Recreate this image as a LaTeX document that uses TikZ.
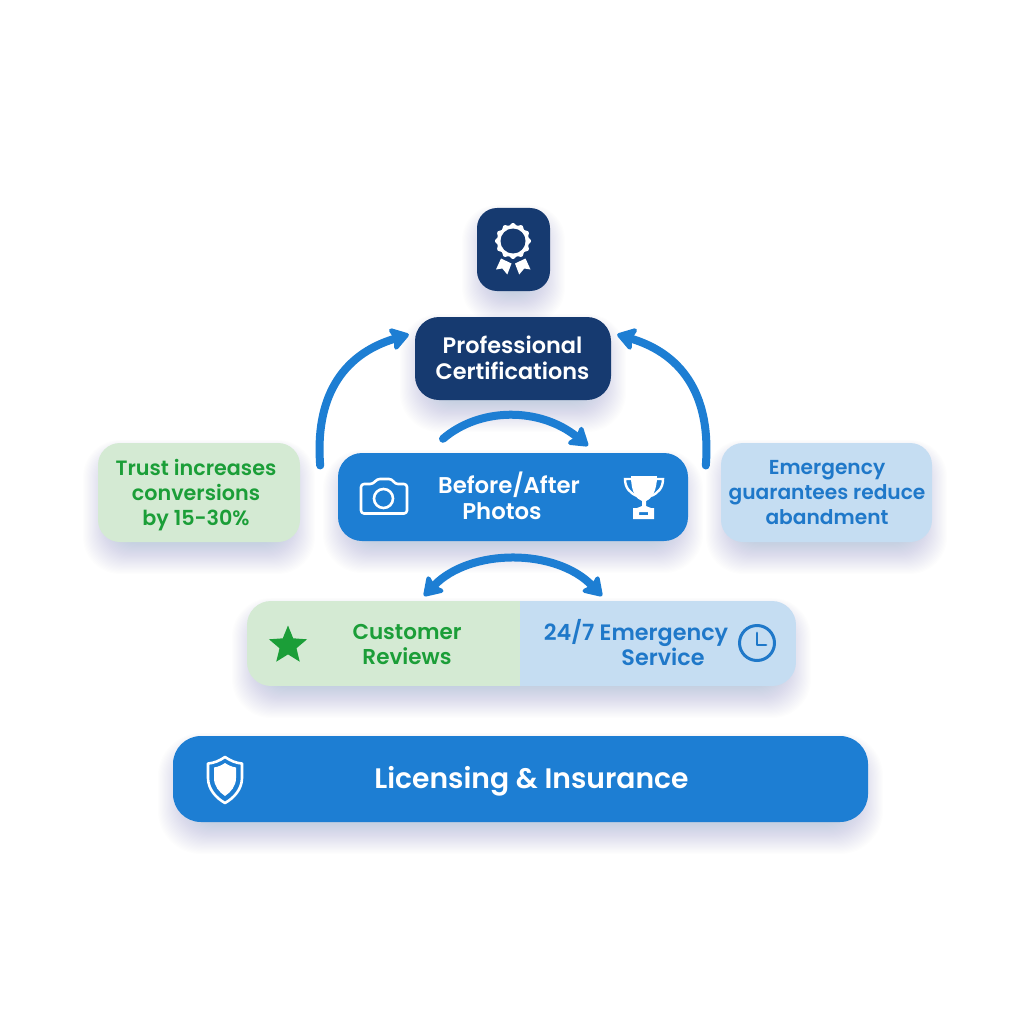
\documentclass[tikz,border=0pt]{standalone}
\usepackage{fontspec}
\setmainfont{Poppins}[UprightFont=* SemiBold,BoldFont=* SemiBold]
\usetikzlibrary{arrows.meta,shapes.geometric,calc}
\definecolor{navy}{HTML}{163A70}
\definecolor{mainblue}{HTML}{1D7ED3}
\definecolor{palegreen}{HTML}{D4EAD3}
\definecolor{paleblue}{HTML}{C5DDF2}
\definecolor{leaf}{HTML}{1B9E38}
\definecolor{skytext}{HTML}{1F78C9}
\definecolor{shadowc}{HTML}{3F5C7E}
\newcommand{\softshade}[5]{%
  \foreach \k in {0,...,29}{%
    \fill[shadowc,fill opacity=0.0095,rounded corners=#5pt+15pt-\k*0.5pt]
      ({#1-15+\k*1.1},{#2-3+\k*0.7}) rectangle ({#3+15-\k*1.1},{#4+32-\k*1.1});
  }%
}
\tikzset{
  box/.style={rectangle,inner sep=0pt,align=center,font=\fontsize{21.5}{25.5}\selectfont},
  flow/.style={draw=mainblue,line width=8pt,line cap=round,fill=none},
  headtip/.tip={Stealth[length=21pt,width=27pt,inset=4pt,round]},
  glyph/.style={draw=white,line width=2.6pt,line join=round,fill=none}
}
\begin{document}
\begin{tikzpicture}[x=1pt,y=-1pt]
\useasboundingbox (0,0) rectangle (1024,1024);
\fill[white] (0,0) rectangle (1024,1024);
% shadows
\softshade{477}{208}{550}{291}{20}
\softshade{415}{317}{611}{400}{24}
\softshade{338}{453}{688}{541}{24}
\softshade{98}{443}{300}{542}{22}
\softshade{721}{443}{932}{542}{22}
\softshade{247}{601}{796}{686}{24}
\softshade{173}{736}{868}{822}{28}
% nodes
\node[box,fill=navy,rounded corners=20pt,minimum width=73pt,minimum height=83pt] (badge) at (513.5,249.5) {};
\node[box,fill=navy,rounded corners=24pt,minimum width=196pt,minimum height=83pt] (prof) at (513,358.5) {};
\node[box,text=white,font=\fontsize{22.4}{25.8}\selectfont] (proft) at (512.5,358) {Professional\\Certifications};
\node[box,fill=mainblue,rounded corners=24pt,minimum width=350pt,minimum height=88pt] (photos) at (513,497) {};
\node[box,text=white,font=\fontsize{22.8}{25.8}\selectfont] (photost) at (502,496) {\hspace*{14pt}Before/After\\Photos};
\node[box,fill=palegreen,rounded corners=22pt,minimum width=202pt,minimum height=99pt] (trust) at (199,492.5) {};
\node[box,text=leaf,font=\fontsize{20.7}{25}\selectfont] (trustt) at (196,495) {Trust increases\\conversions\\by 15-30\%};
\node[box,fill=paleblue,rounded corners=22pt,minimum width=211pt,minimum height=99pt] (guar) at (826.5,492.5) {};
\node[box,text=skytext,font=\fontsize{20.2}{25}\selectfont] (guart) at (827,493) {Emergency\\guarantees reduce\\abandment};
% split bar
\begin{scope}
\clip[rounded corners=24pt] (247,601) rectangle (796,686);
\fill[palegreen] (247,601) rectangle (520,686);
\fill[paleblue] (520,601) rectangle (796,686);
\end{scope}
\node[box,text=leaf] (reviews) at (407,644.5) {Customer\\Reviews};
\node[box,text=skytext,font=\fontsize{22.3}{25.5}\selectfont] (service) at (636,642.5) {24/7 Emergency\\\hspace*{54pt}Service};
\node[box,fill=mainblue,rounded corners=28pt,minimum width=695pt,minimum height=86pt] (lic) at (520.5,779) {};
\node[box,text=white,font=\fontsize{28.2}{32}\selectfont] (lict) at (531.5,781) {Licensing \& Insurance};
% connectors
\coordinate (midL) at ($(photos.north)+(-70,-14)$);
\coordinate (midR) at ($(photos.north)+(75,-7)$);
\coordinate (revUp) at (424,596);
\coordinate (srvUp) at (602,596);
\draw[flow,-{headtip}] ($(trust.east)+(20,-27)$) .. controls (315,400) and (340,355) .. ($(prof.west)+(-6,-24)$);
\draw[flow,-{headtip}] ($(guar.west)+(-15,-27)$) .. controls (711,400) and (686,355) .. ($(prof.east)+(6,-24)$);
\draw[flow,-{headtip}] (midL) .. controls (480,407) and (540,407) .. (midR);
\draw[flow,{headtip}-{headtip}] (revUp) .. controls (470,548) and (556,548) .. (srvUp);
% medal
\fill[white] plot[domain=0:360,samples=97] ({513+(16.9+1.1*cos(12*\x))*cos(\x)},{241+(16.9+1.1*cos(12*\x))*sin(\x)}) -- cycle;
\fill[navy] (513,241) circle (12.5);
\fill[white] (501,258.5) -- (511.5,263.5) -- (507.3,274.5) -- (502.3,268.5) -- (496,269.5) -- cycle;
\fill[white] (525.5,258.5) -- (515,263.5) -- (519.2,274.5) -- (524.2,268.5) -- (530.5,269.5) -- cycle;
% camera
\draw[glyph,rounded corners=3pt] (361,484) -- (373,484) -- (377,479) -- (392,479) -- (395,484) -- (407,484) -- (407,513.5) -- (361,513.5) -- cycle;
\draw[glyph] (383.5,498.5) circle (9.5);
% trophy
\fill[white] (631,476) -- (657,476) .. controls (657,492) and (651,499) .. (646,501) -- (646,506) -- (651,508) -- (637,508) -- (642,506) -- (642,501) .. controls (636,499) and (631,492) .. (631,476) -- cycle;
\draw[draw=white,line width=2.4pt] (631,479) -- (625,479) .. controls (625,488) and (630,493) .. (637,496);
\draw[draw=white,line width=2.4pt] (657,479) -- (663,479) .. controls (663,488) and (658,493) .. (651,496);
\fill[white,even odd rule] (633,508) rectangle (654,519) (639,512) rectangle (648,515);
% shield
\draw[white,line width=2.6pt,line join=round] (225,757) .. controls (219,761) and (214,763) .. (208,763.5) -- (208,778) .. controls (208,789) and (216,798) .. (225,803) .. controls (234,798) and (242,789) .. (242,778) -- (242,763.5) .. controls (236,763) and (231,761) .. (225,757) -- cycle;
\fill[white] (225,763) .. controls (222,765) and (218,767) .. (214,767.5) -- (214,778) .. controls (214,786) and (219,792) .. (225,796) .. controls (231,792) and (236,786) .. (236,778) -- (236,767.5) .. controls (232,767) and (228,765) .. (225,763) -- cycle;
% star
\node[star,star points=5,star point ratio=2.25,fill=leaf,draw=none,inner sep=0pt,minimum size=40pt] (starmark) at (288,645.5) {};
% clock
\node[circle,draw=skytext,line width=3pt,fill=none,minimum size=35pt,inner sep=0pt] (clockmark) at (757,643) {};
\draw[skytext,line width=2.8pt,line cap=round,line join=round] (757,633) -- (757,645) -- (766,645);
\end{tikzpicture}
\end{document}
